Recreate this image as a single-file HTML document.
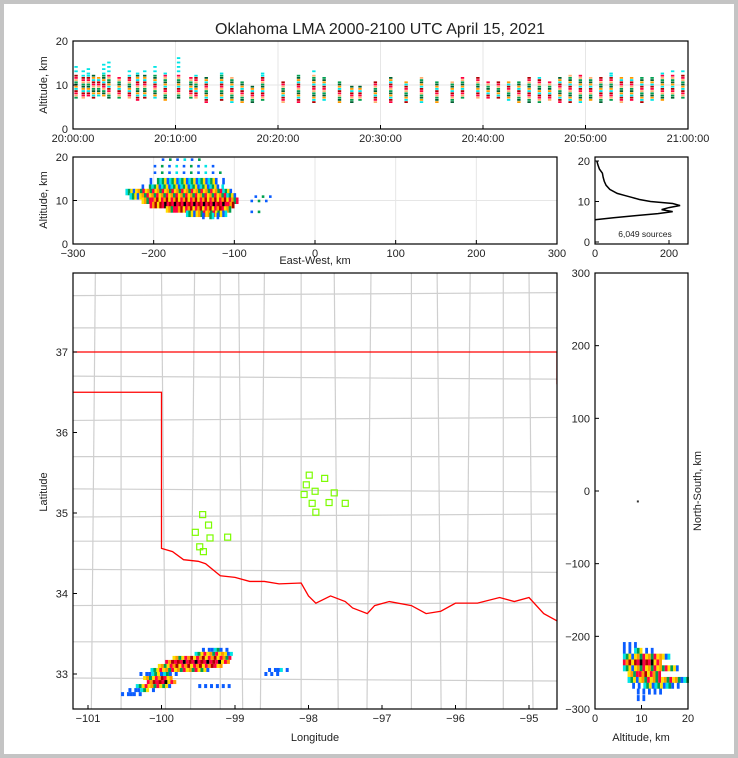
<!DOCTYPE html>
<html><head><meta charset="utf-8"><style>
body{margin:0;background:#c4c4c4;}
#wrap{position:absolute;left:4px;top:4px;width:730px;height:750px;background:#fff;}
svg{position:absolute;left:0;top:0;}
text{font-family:"Liberation Sans",sans-serif;fill:#222;}
</style></head><body>
<div id="wrap"></div>
<svg id="s" width="738" height="758"></svg>
<script>
// ---------- data ----------
const timeMin=[0.3,1,1.5,2,2.5,3,3.5,4.5,5.5,6.3,7,8,9,10.3,11.5,12,13,14.5,15.5,16.5,17.5,18.5,20.5,22,23.5,24.5,26,27.2,28,29.5,31,32.5,34,35.5,37,38,39.5,40.5,41.5,42.5,43.5,44.5,45.5,46.5,47.5,48.5,49.5,50.5,51.5,52.5,53.5,54.5,55.5,56.5,57.5,58.5,59.5];
const timeLo=[7,7,7.5,7,7.5,7.5,7,7,7,6.5,7,7,6.5,7,7,7,6,6.5,6,6,6,6.5,6,6,6,6.5,6,6,6.5,6,6,6,6,6,6,7,7,7,7,6.5,6,6,6,6.5,6,6,6,6.5,6,6.5,6,6.5,6,6.5,6.5,7,7];
const timeHi=[15,14,14,13,12,15,16,12,14,13,14,15,13,17,12,13,12,13,12,11,10,13,11,13,14,12,11,10,10,11,12,11,12,11,11,12,12,11,11,11,11,12,12,11,12,13,13,12,12,13,12,12,12,12,13,14,14];
const ewZ=[19,17.5,16,14.5,13,12,11,10,9,8,7,6.5,10.5,9.5,7];
const ewX0=[-190,-200,-200,-205,-215,-235,-230,-215,-205,-185,-160,-140,-75,-80,-80];
const ewX1=[-140,-120,-115,-110,-110,-105,-100,-95,-100,-105,-110,-115,-55,-60,-65];
const ewLev=[0,0,0,1,1,2,2,3,4,3,2,1,0,0,0];
const histAlt=[5.5,6,6.5,7,7.5,8,8.5,9,9.5,10,10.5,11,11.5,12,13,14,15,16,17,18,19,20];
const histCount=[0,50,110,170,210,180,200,230,210,150,120,100,80,60,40,30,25,22,20,12,8,5];
const stLon=[-97.99,-97.78,-98.03,-97.91,-98.06,-97.65,-97.95,-97.72,-97.50,-97.90,-99.44,-99.36,-99.54,-99.34,-99.10,-99.48,-99.43];
const stLat=[35.47,35.43,35.35,35.27,35.23,35.25,35.12,35.13,35.12,35.01,34.98,34.85,34.76,34.69,34.70,34.58,34.52];
const mapLat=[33.30,33.25,33.20,33.15,33.10,33.05,33.00,32.95,32.90,32.85,32.80,32.75,33.05,33.00,32.85];
const mapLon0=[-99.45,-99.55,-99.85,-99.95,-100.05,-100.15,-100.30,-100.25,-100.20,-100.35,-100.45,-100.55,-98.55,-98.60,-99.50];
const mapLon1=[-99.10,-99.05,-99.05,-99.10,-99.20,-99.35,-99.80,-99.85,-99.80,-99.90,-100.05,-100.30,-98.25,-98.40,-99.05];
const mapLev=[1,2,3,4,3,2,1,3,4,2,1,1,1,1,0];
const nsY=[-212,-220,-228,-236,-244,-252,-260,-268,-276,-285];
const nsA0=[6,6,6,6,6,7,7,8,9,9];
const nsA1=[9,12,16,14,18,14,20,18,14,11];
const nsLev=[0,1,2,4,2,3,2,1,0,0];
const borderLon=[-100,-100,-99.85,-99.7,-99.5,-99.4,-99.2,-99,-98.8,-98.6,-98.4,-98.1,-98,-97.9,-97.7,-97.5,-97.4,-97.2,-97.1,-96.9,-96.6,-96.4,-96.2,-96,-95.7,-95.4,-95.2,-95,-94.8,-94.6];
const borderLat=[36.5,34.56,34.52,34.42,34.4,34.37,34.22,34.2,34.15,34.15,34.12,34.13,33.97,33.88,33.97,33.9,33.82,33.75,33.85,33.9,33.85,33.75,33.78,33.88,33.88,33.95,33.9,33.95,33.75,33.65];
const countyLon=[-100.9,-100.55,-100,-99.55,-99.2,-98.95,-98.6,-98.1,-97.65,-97.15,-96.6,-96.25,-95.8,-95.35,-95.0];
const countyLat=[37.7,37.3,36.7,36.15,35.7,35.3,34.95,34.65,34.3,33.85,33.4,32.95];
// ---------- helpers ----------
const S=document.getElementById('s');const NS='http://www.w3.org/2000/svg';
function mk(t,a,p){const e=document.createElementNS(NS,t);for(const k in a)e.setAttribute(k,a[k]);(p||S).appendChild(e);return e;}
function txt(x,y,s,sz,anchor,p,rot){const e=mk('text',{x:x,y:y,'font-size':sz,'text-anchor':anchor||'middle'},p);if(rot)e.setAttribute('transform','rotate(-90 '+x+' '+y+')');e.textContent=s;return e;}
const pal=['#0a5cff','#00e5e5','#00a050','#ffe000','#ff9a00','#ff0040','#b00000','#000000'];
function levColor(l,i){const sets=[[0,1,0,2],[1,2,3,0],[3,4,2,5],[5,4,6,3],[6,5,7,5]];const s=sets[l];return pal[s[i%s.length]];}
function frame(){const g=mk('g',{});return g;}
function box(g,x,y,w,h){mk('rect',{x:x,y:y,width:w,height:h,fill:'none',stroke:'#000','stroke-width':1.2},g);}
txt(380,34,'Oklahoma LMA 2000-2100 UTC April 15, 2021',16,'middle');
// ---------- top panel ----------
{const g=frame();

const X=m=>73+m*(615/60),Y=z=>129-z*(88/20);
[0,10,20,30,40,50,60].forEach(m=>mk('line',{x1:X(m),x2:X(m),y1:41,y2:129,stroke:'#e6e6e6'},g));
mk('line',{x1:73,x2:688,y1:Y(10),y2:Y(10),stroke:'#e6e6e6'},g);
timeMin.forEach((t,i)=>{for(let z=timeLo[i],j=0;z<timeHi[i];z+=0.5,j++){if(z>12&&j%2)continue;const c=z>12?pal[1]:['#00a050','#ffb070','#ff0040','#b00000','#00e5e5','#ff9a00','#006030'][(i+j)%7];
const r=mk('rect',{x:X(t)-1.7,y:Y(z)-1.4,width:3.4,height:1.8,fill:c},g);}});
box(g,73,41,615,88);
const tl=['20:00:00','20:10:00','20:20:00','20:30:00','20:40:00','20:50:00','21:00:00'];
tl.forEach((s,i)=>{const x=X(i*10);mk('line',{x1:x,x2:x,y1:129,y2:125,stroke:'#000'},g);txt(x,142,s,11,'middle',g);});
[0,10,20].forEach(z=>{mk('line',{x1:73,x2:77,y1:Y(z),y2:Y(z),stroke:'#000'},g);txt(68,Y(z)+4,z,11,'end',g);});
txt(47,85,'Altitude, km',11,'middle',g,1);}
// ---------- EW panel ----------
{const g=frame();

const X=k=>315+k*(242/300),Y=z=>244-z*(87/20);
[-200,-100,0,100,200].forEach(k=>mk('line',{x1:X(k),x2:X(k),y1:157,y2:244,stroke:'#e6e6e6'},g));
mk('line',{x1:73,x2:557,y1:Y(10),y2:Y(10),stroke:'#e6e6e6'},g);
ewZ.forEach((z,i)=>{let j=0;for(let k=ewX0[i];k<ewX1[i];k+=3,j++){const d=Math.min(k-ewX0[i],ewX1[i]-k);const l=d<12?Math.max(0,ewLev[i]-1):ewLev[i];
if(l===0&&(j%3)!==0)continue;
mk('rect',{x:X(k),y:Y(z)-3,width:2.6,height:ewLev[i]===0?2.6:6.5,fill:levColor(l,j)},g);}});
box(g,73,157,484,87);
[-300,-200,-100,0,100,200,300].forEach(k=>{mk('line',{x1:X(k),x2:X(k),y1:244,y2:240,stroke:'#000'},g);txt(X(k),257,k<0?'\u2212'+(-k):k,11,'middle',g);});
[0,10,20].forEach(z=>{mk('line',{x1:73,x2:77,y1:Y(z),y2:Y(z),stroke:'#000'},g);txt(68,Y(z)+4,z,11,'end',g);});
txt(47,200,'Altitude, km',11,'middle',g,1);txt(315,264,'East-West, km',11,'middle',g);}
// ---------- histogram ----------
{const g=frame();

const X=c=>595+c*(74/200),Y=z=>242-z*(81/20);
mk('polyline',{points:histAlt.map((a,i)=>X(histCount[i])+','+Y(a)).join(' '),fill:'none',stroke:'#000','stroke-width':1.5},g);
box(g,595,157,93,87);
[0,200].forEach(c=>{mk('line',{x1:X(c),x2:X(c),y1:244,y2:240,stroke:'#000'},g);txt(X(c),257,c,11,'middle',g);});
[0,10,20].forEach(z=>{mk('line',{x1:595,x2:599,y1:Y(z),y2:Y(z),stroke:'#000'},g);txt(590,Y(z)+4,z,11,'end',g);});
txt(645,237,'6,049 sources',8.5,'middle',g);}
// ---------- map ----------
{const g=frame();

const X=lo=>88+(lo+101)*73.5,Y=la=>352-(la-37)*80.5;
mk('clipPath',{id:'mc'},g);mk('rect',{x:73,y:273,width:484,height:436},document.getElementById('mc'));
const cg=mk('g',{'clip-path':'url(#mc)'},g);
countyLon.forEach((lo,i)=>mk('line',{x1:X(lo),x2:X(lo)+(i%3-1)*4,y1:273,y2:709,stroke:'#cfcfcf','stroke-width':1.2},cg));
countyLat.forEach((la,i)=>mk('line',{x1:73,x2:557,y1:Y(la),y2:Y(la)+(i%3-1)*3,stroke:'#cfcfcf','stroke-width':1.2},cg));
mk('line',{x1:73,x2:557,y1:Y(37),y2:Y(37),stroke:'#ff0000','stroke-width':1.3},cg);
mk('line',{x1:557,x2:557,y1:Y(37),y2:Y(36.6),stroke:'#ff0000','stroke-width':1.3},cg);
mk('polyline',{points:'73,'+Y(36.5)+' '+borderLon.map((lo,i)=>X(lo)+','+Y(borderLat[i])).join(' '),fill:'none',stroke:'#ff0000','stroke-width':1.3},cg);
stLon.forEach((lo,i)=>{const r=mk('rect',{x:X(lo)-3,y:Y(stLat[i])-3,width:6,height:6,fill:'none',stroke:'#7cfc00','stroke-width':1.2},cg);});
mapLat.forEach((la,i)=>{let j=0;for(let lo=mapLon0[i];lo<mapLon1[i];lo+=0.04,j++){const d=Math.min(lo-mapLon0[i],mapLon1[i]-lo);const l=d<0.12?Math.max(0,mapLev[i]-1):mapLev[i];
if(l===0&&(j%2)===1)continue;
mk('rect',{x:X(lo),y:Y(la)-2,width:3,height:4,fill:levColor(l,j)},cg);}});
box(g,73,273,484,436);
[-101,-100,-99,-98,-97,-96,-95].forEach(lo=>{mk('line',{x1:X(lo),x2:X(lo),y1:709,y2:705,stroke:'#000'},g);txt(X(lo),722,'\u2212'+(-lo),11,'middle',g);});
[33,34,35,36,37].forEach(la=>{mk('line',{x1:73,x2:77,y1:Y(la),y2:Y(la),stroke:'#000'},g);txt(68,Y(la)+4,la,11,'end',g);});
txt(315,741,'Longitude',11,'middle',g);txt(47,492,'Latitude',11,'middle',g,1);}
// ---------- NS panel ----------
{const g=frame();

const X=a=>595+a*(93/20),Y=k=>491-k*(218/300);
nsY.forEach((k,i)=>{let j=0;for(let a=nsA0[i];a<nsA1[i];a+=0.6,j++){const d=Math.min(a-nsA0[i],nsA1[i]-a);const l=d<2?Math.max(0,nsLev[i]-1):nsLev[i];
if(l===0&&(j%2)===1)continue;
mk('rect',{x:X(a),y:Y(k)-3,width:2.8,height:6,fill:levColor(l,j)},g);}});
mk('rect',{x:X(9),y:Y(-13),width:2,height:2,fill:'#333'},g);
box(g,595,273,93,436);
[0,10,20].forEach(a=>{mk('line',{x1:X(a),x2:X(a),y1:709,y2:705,stroke:'#000'},g);txt(X(a),722,a,11,'middle',g);});
[-300,-200,-100,0,100,200,300].forEach(k=>{mk('line',{x1:595,x2:599,y1:Y(k),y2:Y(k),stroke:'#000'},g);txt(590,Y(k)+4,k<0?'\u2212'+(-k):k,11,'end',g);});
txt(641,741,'Altitude, km',11,'middle',g);txt(701,491,'North-South, km',11,'middle',g,1);}
</script></body></html>
